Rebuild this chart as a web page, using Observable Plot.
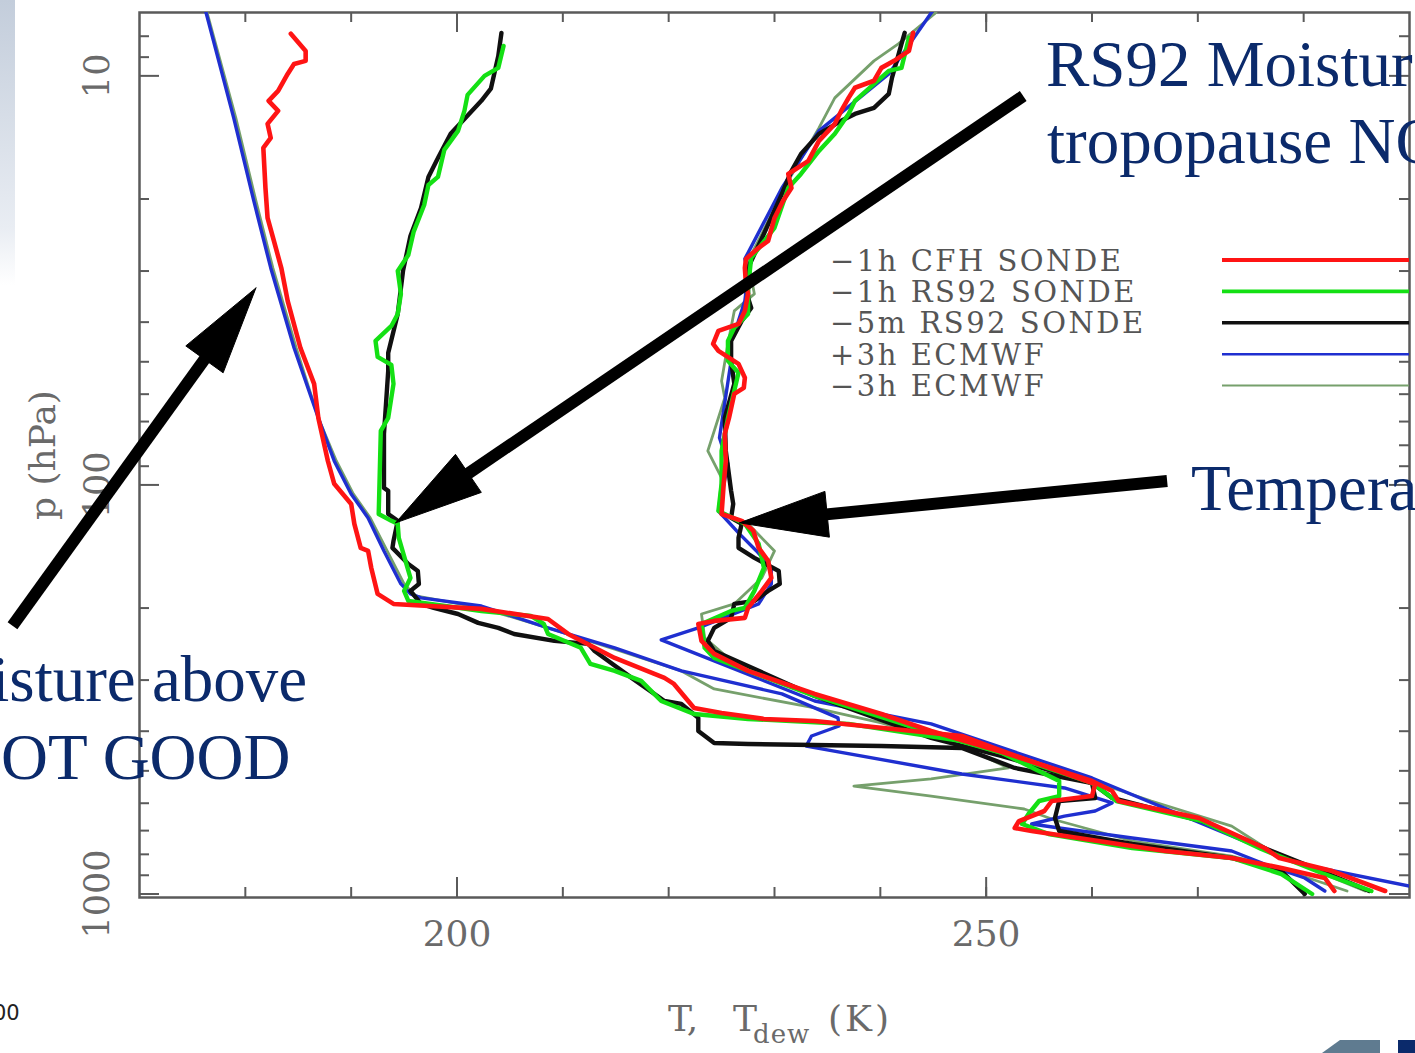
<!DOCTYPE html>
<html>
<head>
<meta charset="utf-8">
<script src="https://cdn.jsdelivr.net/npm/d3@7"></script>
<script src="https://cdn.jsdelivr.net/npm/@observablehq/plot@0.6"></script>
<style>
  html, body { margin: 0; padding: 0; background: #fff; }
  #wrap { position: relative; width: 1415px; height: 1053px; overflow: hidden; background: #fff; }
  #strip { position: absolute; left: 0; top: 0; width: 15px; height: 285px;
           background: linear-gradient(#c3cddb, #e9edf3 80%, #ffffff); }
  #chart { position: absolute; left: 0; top: 0; }
  #overlay { position: absolute; left: 0; top: 0; pointer-events: none; }
</style>
</head>
<body>
<div id="wrap">
  <div id="strip"></div>
  <div id="chart"></div>
  <svg id="overlay" width="1415" height="1053"></svg>
</div>
<script>
// ---------------- data (T in K, p in hPa) ----------------
const legendLabels = ["−1h CFH SONDE", "−1h RS92 SONDE", "−5m RS92 SONDE", "+3h ECMWF", "−3h ECMWF"];

// −1h CFH sonde
const cfhTemp = [[243.1,7.85],[242.7,8.69],[241.3,9.19],[240.1,9.56],[239.4,10.28],[237.6,10.69],[237.0,11.32],[236.3,12.18],[235.7,13.10],[234.2,14.42],[233.2,16.14],[231.3,17.37],[231.6,18.79],[230.8,20.22],[230.0,22.25],[229.4,25.32],[228.5,26.33],[227.3,28.02],[227.2,29.48],[227.3,32.25],[227.5,34.12],[227.2,37.55],[226.6,40.4],[224.7,42.02],[224.2,45.2],[224.7,47.03],[226.6,50.6],[227.2,54.7],[227.1,57.9],[226.2,59.9],[225.7,68.6],[225.3,75.0],[225.4,87.36],[225.2,99.4],[225.0,117.8],[226.9,122.4],[228.0,129.5],[228.5,142.5],[229.4,153.4],[229.7,168.8],[228.8,181.6],[227.5,199.8],[227.2,211.4],[224.3,215],[222.8,218.7],[223.1,240.6],[224.3,258.9],[227.5,284.9],[233.8,324.3],[240.1,363],[244.8,399.5],[251.2,447.1],[260.0,529.4],[261.9,560.1],[262.5,592.5],[270.1,651.9],[276.3,771.9],[277.7,816.6],[282.7,878.8],[287.7,983.3]];
const cfhDew = [[184.3,7.89],[185.7,8.69],[185.7,9.19],[184.6,9.35],[184.0,9.89],[183.1,10.88],[182.2,11.51],[183.1,12.18],[182.1,13.10],[182.4,14.18],[181.7,15.0],[181.9,18.79],[182.1,22.25],[182.7,25.32],[183.4,29.5],[184.0,35.49],[185.2,46.2],[186.5,56.6],[186.9,68.6],[187.8,87.4],[188.4,99.4],[190.0,111.3],[190.3,124.5],[190.9,142.5],[191.6,145],[191.9,159.6],[192.5,184.7],[194.0,195.4],[202.3,200.9],[208.6,212.7],[210.5,231.4],[214.9,264.8],[219.6,296.3],[220.5,306.5],[222.4,350.9],[225.0,361],[229.0,373.3],[233.8,377.6],[247.7,411],[251.5,447.1],[260.3,538.4],[260.0,576.3],[256.2,592.5],[255.5,626.8],[253.1,663.2],[252.7,689.8],[254.3,701.5],[260.6,742.2],[266.9,785.2],[273.2,816.6],[277.9,863.9],[282.0,914],[282.9,983.3]];

// −1h RS92 sonde
const rs92Temp = [[242.7,8.07],[242.0,9.56],[240.8,9.72],[237.6,11.51],[237.0,12.39],[235.7,13.86],[234.2,15.26],[232.5,17.37],[231.3,18.79],[230.0,23.53],[227.8,27.86],[227.5,32.98],[227.5,38.2],[226.2,41.3],[225.6,44.45],[225.6,49.75],[226.6,53.2],[225.6,68.6],[225.0,82.58],[225.0,99.4],[224.7,115.8],[227.2,124.5],[228.5,139.3],[229.0,159.5],[228.1,181.6],[227.2,199.8],[225.9,203.3],[223.1,218.7],[223.4,250.2],[224.3,264.8],[233.8,328.1],[244.8,404],[251.5,452.2],[260.0,535.4],[262.3,592.5],[270.4,663.2],[276.0,776.4],[281.7,888.7],[286.4,983.3]];
const rs92Dew = [[204.4,8.45],[203.9,9.56],[202.6,10.0],[201.0,11.13],[200.7,12.18],[200.1,13.63],[198.8,15.17],[198.2,17.66],[197.3,18.48],[196.9,20.69],[195.9,24.07],[195.4,27.41],[194.4,29.98],[194.7,34.12],[194.4,38.19],[193.8,40.87],[192.3,44.45],[192.5,48.63],[193.8,50.9],[194.0,56.6],[193.5,68.6],[192.8,73.79],[192.6,117.8],[193.8,122.4],[194.4,124.5],[194.5,134.7],[195.6,168.8],[195.0,181.6],[195.4,192.1],[197.5,195.4],[202.3,203.3],[207.0,209.2],[208.2,218.7],[208.6,231.4],[211.7,250.2],[212.6,273.9],[214.9,284.9],[217.4,301.4],[219.3,337.4],[222.4,363],[227.5,373.4],[237.0,384],[247.7,422.6],[251.5,452.2],[256.9,529.4],[256.9,576.3],[255.0,592.5],[254.0,637.5],[253.4,674.5],[255.9,713.5],[263.8,771.9],[273.2,816.6],[277.9,893.8],[280.8,1000]];

// −5m RS92 sonde
const rs92LateTemp = [[242.3,7.85],[242.0,8.35],[241.1,10.11],[240.8,11.07],[239.4,11.97],[237.6,12.39],[236.3,12.88],[234.2,13.86],[232.5,15.52],[231.6,17.08],[230.7,19.44],[229.0,24.34],[227.5,29.48],[227.5,34.89],[227.8,36.91],[226.9,39.72],[225.9,44.45],[225.9,49.75],[226.2,56.6],[225.3,68.6],[225.4,82.58],[225.9,103.4],[226.1,111.3],[225.9,120.4],[226.9,124.5],[226.6,134.7],[226.6,142.5],[228.1,150.8],[230.4,162.3],[230.5,174.6],[229.4,181.6],[228.1,192.1],[226.2,195.4],[225.9,211.4],[224.3,223.6],[223.7,240.6],[224.3,254.6],[233.8,328.1],[244.8,415.5],[251.5,460],[260.0,535.4],[261.9,582.5],[270.4,663.2],[276.5,776.4],[281.7,878.8],[286.2,983.3]];
const rs92LateDew = [[204.2,7.85],[203.9,8.94],[203.2,10.75],[202.3,11.51],[200.7,12.74],[199.4,13.86],[198.2,15.87],[197.3,17.66],[196.6,21.03],[195.6,24.62],[194.9,29.98],[194.4,38.19],[193.5,47.56],[193.5,52.63],[193.1,75.05],[193.1,101.7],[193.5,103.4],[193.5,117.8],[194.4,122.4],[194.0,137.0],[193.9,142.5],[195.4,156],[196.3,162.3],[196.4,174.6],[195.6,181.6],[196.6,195.4],[197.8,199.8],[200.1,206.8],[202.0,217.4],[203.9,223.6],[205.4,231.4],[209.2,240.6],[212.4,244.7],[213.0,254.6],[214.3,269.3],[216.5,296.3],[219.6,337.4],[221.2,343.1],[222.8,371.2],[222.8,399.5],[224.3,427.4],[227.5,429.8],[240.1,434.9],[247.7,439.5],[252.7,491.9],[260.0,535.4],[260.3,582.5],[256.9,592.5],[256.5,651.9],[256.9,701.5],[263.8,754.8],[273.2,816.6],[277.9,878.8],[280.1,1000]];

// +3h ECMWF
const ecmwfPlusTemp = [[245.6,6.56],[244.8,7.02],[240.8,9.89],[234.2,13.63],[230.7,18.79],[227.2,28.02],[227.5,30.49],[227.2,35.49],[226.2,42.74],[225.6,46.2],[225.9,49.75],[224.8,76.7],[225.6,88.85],[224.7,115.8],[226.6,131],[228.3,145],[229.7,159.5],[229.7,174.6],[228.5,195.4],[222.8,223.6],[219.3,239.2],[224.3,269.3],[233.8,337.4],[244.8,384],[260.0,520.4],[279.6,844.8],[290.0,956.3],[291.7,989]];
const ecmwfPlusDew = [[176.0,6.56],[176.3,7.02],[178.9,12.67],[180.8,20.22],[182.4,29.48],[184.6,46.2],[186.9,68.6],[188.4,87.36],[190.0,105.2],[191.6,120.4],[193.1,145],[194.7,174.6],[195.6,184.7],[196.6,188.9],[202.3,197.7],[208.6,223.6],[214.9,250.2],[221.2,284.9],[230.7,324.3],[236.0,371.2],[236.1,388.5],[233.5,411],[233.0,434.9],[247.7,508.9],[257.4,550.6],[261.9,599.2],[260.3,626.8],[257.4,645],[254.3,674.5],[256.9,689.8],[263.8,729.6],[273.2,785.2],[276.3,844.8],[280.1,914],[282.0,983.3]];

// −3h ECMWF
const ecmwfMinusTemp = [[246.1,6.56],[245.1,7.06],[241.7,8.35],[239.4,9.19],[235.7,11.32],[234.2,13.40],[231.3,18.06],[228.8,24.34],[227.5,28.34],[228.1,34.12],[226.2,37.55],[225.6,45.2],[225.0,55.68],[225.3,61.3],[223.7,82.58],[225.0,96.1],[224.7,115.8],[227.5,124.5],[230.0,145],[228.8,168.8],[226.2,195.4],[223.1,206.8],[223.4,236.6],[225.6,264.8],[234.4,331.7],[244.8,399.5],[260.0,529.4],[265.6,592.5],[273.2,682.4],[277.3,798.6],[285.8,983.3]];
const ecmwfMinusDew = [[176.2,6.56],[176.4,7.02],[179.1,12.67],[181.0,20.22],[182.6,29.48],[184.8,46.2],[186.9,68.6],[188.6,87.36],[190.2,105.2],[191.8,120.4],[193.4,145],[195.0,174.6],[196.1,186.8],[202.3,199.8],[208.6,223.6],[214.9,252],[221.2,284.9],[224.3,315.3],[233.8,350.9],[240.1,381.9],[247.7,434.9],[252.1,491.9],[244.8,523.4],[237.5,544.8],[244.8,576.3],[253.6,619.8],[256.2,655.6],[263.8,742.2],[273.2,808],[277.9,868.8],[284.1,983.3]];

// axis ticks
const tempTicks = [180, 190, 200, 210, 220, 230, 240, 250, 260, 270, 280];
const tempLabelTicks = [200, 250];
const pressureMinorTicks = [8, 9, 20, 30, 40, 50, 60, 70, 80, 90, 200, 300, 400, 500, 600, 700, 800, 900];
const pressureMajorTicks = [10, 100, 1000];

// annotation arrows (tail -> tip), in data units
const arrowTailT = [253.5, 267.1, 158.0];
const arrowTailP = [11.2, 97.8, 221];
const arrowTipT = [194.2, 226.7, 181.0];
const arrowTipP = [123.8, 123.8, 33.0];

// ---------------- styling ----------------
const seriesColors = ["#ff1414", "#14e014", "#101010", "#1f2fd0", "#76a06c"];
const seriesWidths = [4.6, 4.4, 4.4, 3.4, 2.8];
const temps = [cfhTemp, rs92Temp, rs92LateTemp, ecmwfPlusTemp, ecmwfMinusTemp];
const dews = [cfhDew, rs92Dew, rs92LateDew, ecmwfPlusDew, ecmwfMinusDew];
const drawOrder = [4, 3, 2, 1, 0];

const W = 1415, H = 1053, mL = 139, mR = 6, mT = 12, mB = 156;
const frameW = W - mL - mR, frameH = H - mT - mB;
const axisColor = "#5a5a5a", labelColor = "#6a6a6a";
const FONT = "DejaVu Serif";

const base = {
  width: W, height: H,
  marginLeft: mL, marginRight: mR, marginTop: mT, marginBottom: mB,
  x: {type: "linear", domain: [170, 290], axis: null},
  y: {type: "log", domain: [7, 1020], reverse: true, axis: null},
  style: {background: "transparent", fontFamily: FONT, overflow: "visible"}
};

// first pass: obtain scales for the arrow geometry
const probe = Plot.plot({...base, marks: [Plot.frame()]});
const sx = probe.scale("x"), sy = probe.scale("y");
const HEAD_LEN = 88, HEAD_HALF = 23;
const headRows = [], shaftRows = [];
arrowTipT.forEach((_, i) => {
  const x0 = sx.apply(arrowTailT[i]), y0 = sy.apply(arrowTailP[i]);
  const x1 = sx.apply(arrowTipT[i]), y1 = sy.apply(arrowTipP[i]);
  const L = Math.hypot(x1 - x0, y1 - y0);
  const ux = (x1 - x0) / L, uy = (y1 - y0) / L, nx = -uy, ny = ux;
  const bx = x1 - ux * HEAD_LEN, by = y1 - uy * HEAD_LEN;
  [[x1, y1], [bx + nx * HEAD_HALF, by + ny * HEAD_HALF], [bx - nx * HEAD_HALF, by - ny * HEAD_HALF], [x1, y1]]
    .forEach(([px, py]) => headRows.push({k: i, T: sx.invert(px), p: sy.invert(py)}));
  shaftRows.push({T1: arrowTailT[i], p1: arrowTailP[i], T2: sx.invert(bx + ux * 6), p2: sy.invert(by + uy * 6)});
});

const lineMarks = drawOrder.flatMap(i => [temps[i], dews[i]].map(arr =>
  Plot.line(arr, {x: d => d[0], y: d => d[1], stroke: seriesColors[i], strokeWidth: seriesWidths[i],
                  strokeLinejoin: "round", strokeLinecap: "round", clip: true})));

const plot = Plot.plot({
  ...base,
  marks: [
    // ticks (inward) on all four sides
    Plot.tickX(tempTicks, {x: d => d, insetTop: frameH - 10, stroke: axisColor, strokeWidth: 2}),
    Plot.tickX(tempLabelTicks, {x: d => d, insetTop: frameH - 20, stroke: axisColor, strokeWidth: 2}),
    Plot.tickX(tempTicks, {x: d => d, insetBottom: frameH - 10, stroke: axisColor, strokeWidth: 2}),
    Plot.tickX(tempLabelTicks, {x: d => d, insetBottom: frameH - 20, stroke: axisColor, strokeWidth: 2}),
    Plot.tickY(pressureMinorTicks, {y: d => d, insetRight: frameW - 10, stroke: axisColor, strokeWidth: 2}),
    Plot.tickY(pressureMajorTicks, {y: d => d, insetRight: frameW - 20, stroke: axisColor, strokeWidth: 2}),
    Plot.tickY(pressureMinorTicks, {y: d => d, insetLeft: frameW - 10, stroke: axisColor, strokeWidth: 2}),
    Plot.tickY(pressureMajorTicks, {y: d => d, insetLeft: frameW - 20, stroke: axisColor, strokeWidth: 2}),
    Plot.frame({stroke: axisColor, strokeWidth: 2.5}),
    // tick labels
    Plot.text(tempLabelTicks, {x: d => d, text: d => String(d), frameAnchor: "bottom", dy: 37,
      lineAnchor: "middle", fontSize: 36, fontFamily: FONT, fill: labelColor}),
    Plot.text(pressureMajorTicks, {y: d => d, text: d => String(d), frameAnchor: "left", dx: -42,
      textAnchor: "middle", lineAnchor: "middle", rotate: -90, fontSize: 35, fontFamily: FONT, fill: labelColor}),
    Plot.text(["p (hPa)"], {frameAnchor: "left", dx: -96, textAnchor: "middle", lineAnchor: "middle",
      rotate: -90, fontSize: 36, fontFamily: FONT, fill: labelColor, letterSpacing: 3}),
    // profiles
    ...lineMarks,
    // arrows
    Plot.link(shaftRows, {x1: "T1", y1: "p1", x2: "T2", y2: "p2", stroke: "#000", strokeWidth: 12,
      strokeLinecap: "butt", clip: false}),
    Plot.line(headRows, {x: "T", y: "p", z: "k", fill: "#000", stroke: "#000", strokeWidth: 1, clip: false})
  ]
});
document.getElementById("chart").appendChild(plot);

// ---------------- overlay: legend, axis title, annotation text ----------------
const ov = d3.select("#overlay");
const legendX = 830, legendY0 = 260, legendDy = 31.4, legendLineX1 = 1222, legendLineX2 = 1409;
legendLabels.forEach((lab, i) => {
  const cy = legendY0 + i * legendDy;
  ov.append("text").attr("x", legendX).attr("y", cy + 10.5).attr("font-family", FONT)
    .attr("font-size", 29).attr("fill", "#555").attr("letter-spacing", 2.5).text(lab);
  ov.append("line").attr("x1", legendLineX1).attr("x2", legendLineX2).attr("y1", cy).attr("y2", cy)
    .attr("stroke", seriesColors[i]).attr("stroke-width", seriesWidths[i] - 0.8);
});

const xt = ov.append("text").attr("font-family", FONT).attr("font-size", 36).attr("fill", labelColor);
xt.append("tspan").attr("x", 668).attr("y", 1031).text("T,");
xt.append("tspan").attr("x", 733).attr("y", 1031).text("T");
xt.append("tspan").attr("x", 753).attr("y", 1043).attr("font-size", 26).attr("letter-spacing", 1).text("dew");
xt.append("tspan").attr("x", 828).attr("y", 1031).attr("letter-spacing", 3).text("(K)");

const annColor = "#0b2a6b";
const annFont = "Liberation Serif";
[["RS92 Moisture", 1046, 86], ["tropopause NOT", 1047, 163], ["Temperature", 1191, 510],
 ["Moisture above", -99, 701], ["NOT GOOD", -46, 779]].forEach(([t, x, y]) => {
  ov.append("text").attr("x", x).attr("y", y).attr("font-family", annFont).attr("font-size", 65)
    .attr("fill", annColor).text(t);
});

// slide footer fragments
ov.append("text").attr("x", -7).attr("y", 1020).attr("font-family", "DejaVu Sans").attr("font-size", 21)
  .attr("fill", "#222").text("00");
ov.append("path").attr("d", "M1322,1053 L1340,1040 L1380,1040 L1380,1053 Z").attr("fill", "#5f7b90");
ov.append("rect").attr("x", 1398).attr("y", 1040).attr("width", 17).attr("height", 13).attr("fill", "#0b2a6b");
</script>
</body>
</html>
